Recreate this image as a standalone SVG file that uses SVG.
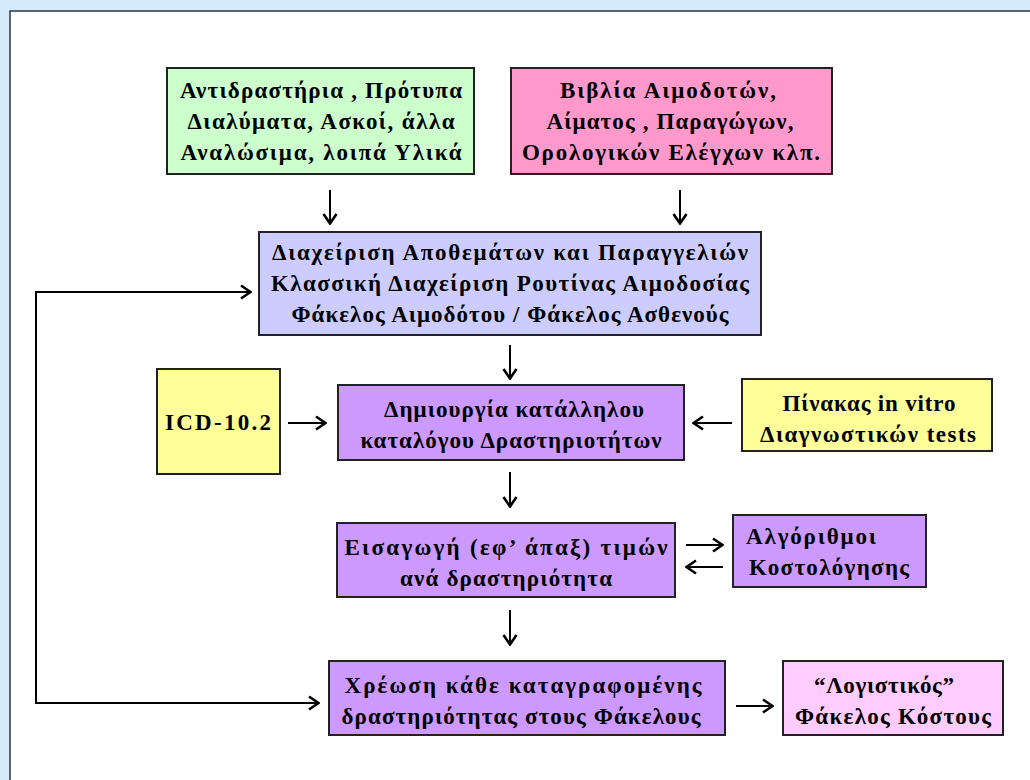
<svg xmlns="http://www.w3.org/2000/svg" width="1030" height="780" viewBox="0 0 1030 780">
<defs>
<marker id="ah" viewBox="0 0 14 16" refX="13" refY="8" markerWidth="14" markerHeight="16" markerUnits="userSpaceOnUse" orient="auto-start-reverse">
<path d="M3,1.5 L12.5,8 L3,14.5" fill="none" stroke="#000" stroke-width="2.6"/>
</marker>
</defs>
<style>
.bx{stroke:#222;stroke-width:2}
.t{font-family:"Liberation Serif","Times New Roman",serif;font-weight:bold;font-size:23px;fill:#000;text-anchor:middle}
.tl{text-anchor:start}
.c{fill:none;stroke:#000;stroke-width:2}
</style>
<rect x="0" y="0" width="1030" height="780" fill="#d6ecfc"/>
<rect x="10" y="11" width="1040" height="800" fill="#fff" stroke="#2a3440" stroke-width="1.5"/>

<g id="connectors">
<line class="c" x1="330" y1="190" x2="330" y2="224" marker-end="url(#ah)"/>
<line class="c" x1="680" y1="190" x2="680" y2="224" marker-end="url(#ah)"/>
<line class="c" x1="510" y1="345" x2="510" y2="379" marker-end="url(#ah)"/>
<line class="c" x1="288" y1="423" x2="326" y2="423" marker-end="url(#ah)"/>
<line class="c" x1="732" y1="423" x2="693" y2="423" marker-end="url(#ah)"/>
<line class="c" x1="510" y1="472" x2="510" y2="507" marker-end="url(#ah)"/>
<line class="c" x1="686" y1="545" x2="723" y2="545" marker-end="url(#ah)"/>
<line class="c" x1="723" y1="567" x2="686" y2="567" marker-end="url(#ah)"/>
<line class="c" x1="510" y1="610" x2="510" y2="645" marker-end="url(#ah)"/>
<line class="c" x1="736" y1="706" x2="773" y2="706" marker-end="url(#ah)"/>
<polyline class="c" points="319,703 36,703 36,292 251,292" marker-start="url(#ah)" marker-end="url(#ah)"/>
</g>

<g id="n_reagents">
<rect class="bx" x="167" y="68" width="307" height="106" fill="#ccffcc"/>
<text class="t" x="321" y="98" textLength="282" lengthAdjust="spacing">Αντιδραστήρια , Πρότυπα</text>
<text class="t" x="321" y="129" textLength="267" lengthAdjust="spacing">Διαλύματα, Ασκοί, άλλα</text>
<text class="t" x="321" y="160" textLength="281" lengthAdjust="spacing">Αναλώσιμα, λοιπά Υλικά</text>
</g>

<g id="n_books">
<rect class="bx" x="511" y="68" width="321" height="106" fill="#ff99cc"/>
<text class="t" x="668" y="98" textLength="216" lengthAdjust="spacing">Βιβλία Αιμοδοτών,</text>
<text class="t" x="670" y="129" textLength="247" lengthAdjust="spacing">Αίματος , Παραγώγων,</text>
<text class="t" x="671" y="160" textLength="298" lengthAdjust="spacing">Ορολογικών Ελέγχων κλπ.</text>
</g>

<g id="n_stock">
<rect class="bx" x="259" y="232" width="502" height="103" fill="#ccccff"/>
<text class="t" x="510" y="260" textLength="476" lengthAdjust="spacing">Διαχείριση Αποθεμάτων και Παραγγελιών</text>
<text class="t" x="510" y="291" textLength="478" lengthAdjust="spacing">Κλασσική Διαχείριση Ρουτίνας Αιμοδοσίας</text>
<text class="t" x="510" y="322" textLength="437" lengthAdjust="spacing">Φάκελος Αιμοδότου / Φάκελος Ασθενούς</text>
</g>

<g id="n_icd">
<rect class="bx" x="157" y="369" width="123" height="105" fill="#ffff99"/>
<text class="t" x="218" y="430" textLength="106" lengthAdjust="spacing">ICD-10.2</text>
</g>

<g id="n_catalog">
<rect class="bx" x="338" y="385" width="346" height="75" fill="#cc99ff"/>
<text class="t" x="514" y="417" textLength="260" lengthAdjust="spacing">Δημιουργία κατάλληλου</text>
<text class="t" x="511" y="448" textLength="301" lengthAdjust="spacing">καταλόγου Δραστηριοτήτων</text>
</g>

<g id="n_invitro">
<rect class="bx" x="742" y="379" width="250" height="72" fill="#ffff99"/>
<text class="t" x="869" y="411" textLength="173" lengthAdjust="spacing">Πίνακας in vitro</text>
<text class="t" x="868" y="442" textLength="216" lengthAdjust="spacing">Διαγνωστικών tests</text>
</g>

<g id="n_prices">
<rect class="bx" x="337" y="523" width="338" height="74" fill="#cc99ff"/>
<text class="t" x="506" y="555" textLength="323" lengthAdjust="spacing">Εισαγωγή (εφ’ άπαξ) τιμών</text>
<text class="t" x="506" y="586" textLength="212" lengthAdjust="spacing">ανά δραστηριότητα</text>
</g>

<g id="n_algo">
<rect class="bx" x="733" y="515" width="193" height="72" fill="#cc99ff"/>
<text class="t tl" x="746" y="544" textLength="130" lengthAdjust="spacing">Αλγόριθμοι</text>
<text class="t tl" x="749" y="575" textLength="160" lengthAdjust="spacing">Κοστολόγησης</text>
</g>

<g id="n_charge">
<rect class="bx" x="329" y="661" width="396" height="74" fill="#cc99ff"/>
<text class="t" x="523" y="693" textLength="357" lengthAdjust="spacing">Χρέωση κάθε καταγραφομένης</text>
<text class="t" x="521" y="724" textLength="359" lengthAdjust="spacing">δραστηριότητας στους Φάκελους</text>
</g>

<g id="n_costfile">
<rect class="bx" x="783" y="661" width="220" height="74" fill="#ffccff"/>
<text class="t" x="884" y="693" textLength="140" lengthAdjust="spacing">“Λογιστικός”</text>
<text class="t" x="893" y="724" textLength="196" lengthAdjust="spacing">Φάκελος Κόστους</text>
</g>
</svg>
